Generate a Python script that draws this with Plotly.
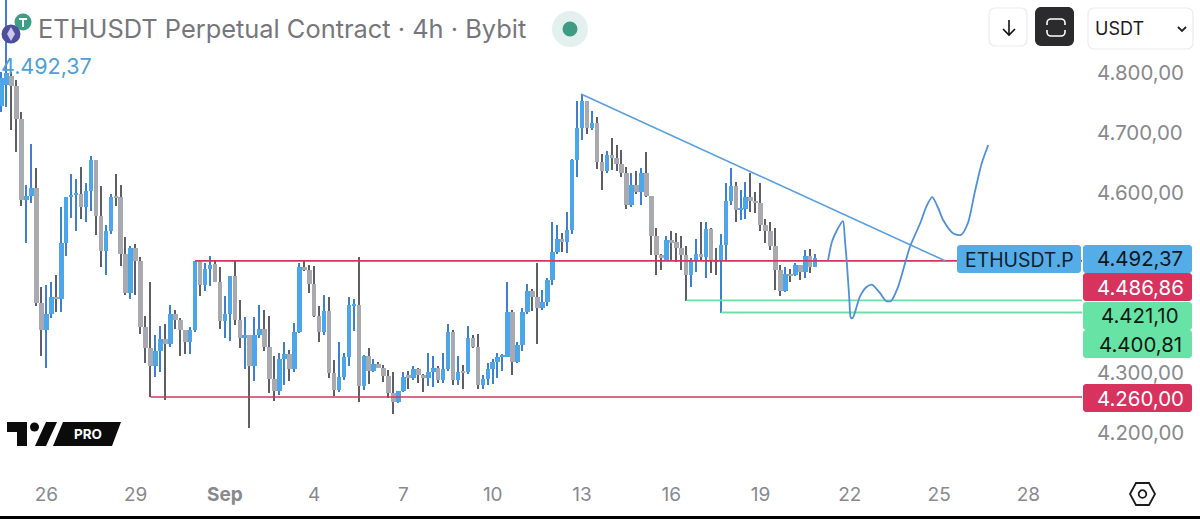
import plotly.graph_objects as go

W, H = 1200, 519
PLOT_R, PLOT_B = 1082, 470

opens = [4745,4780,4795,4778,4724,4588,4595,4609,4416,4372,
 4398,4426,4424,4516,4593,4597,4599,4576,4604,4655,
 4562,4503,4537,4594,4593,4499,4433,4508,4486,4377,
 4342,4312,4337,4357,4349,4398,4388,4372,4351,4371,
 4486,4447,4473,4482,4452,4387,4399,4461,4389,4359,
 4364,4311,4363,4373,4344,4290,4270,4323,4331,4306,
 4369,4476,4472,4448,4395,4368,4403,4300,4272,4293,
 4326,4413,4414,4279,4328,4304,4315,4309,4295,4266,
 4251,4270,4296,4291,4307,4296,4291,4302,4308,4288,
 4307,4368,4288,4302,4301,4359,4344,4280,4290,4307,
 4319,4327,4327,4401,4318,4346,4401,4437,4426,4408,
 4419,4455,4502,4523,4519,4539,4655,4709,4753,4708,
 4716,4652,4636,4663,4659,4648,4633,4580,4614,4602,
 4633,4595,4529,4497,4488,4521,4518,4509,4497,4464,
 4487,4499,4494,4540,4486,4486,4514,4587,4611,4572,
 4573,4594,4586,4584,4546,4536,4511,4471,4436,4465,
 4463,4480,4469,4495,4476]
closes = [4792,4800,4778,4724,4588,4595,4609,4416,4372,4398,
 4426,4424,4516,4593,4597,4599,4576,4604,4655,4562,
 4503,4537,4594,4593,4499,4433,4508,4486,4377,4342,
 4312,4337,4357,4349,4398,4388,4372,4351,4371,4486,
 4447,4473,4480,4452,4387,4399,4461,4389,4359,4364,
 4311,4363,4373,4344,4290,4270,4323,4331,4306,4369,
 4476,4472,4448,4395,4368,4403,4300,4272,4293,4326,
 4413,4414,4279,4328,4304,4315,4309,4295,4266,4251,
 4270,4294,4293,4307,4296,4291,4302,4308,4288,4307,
 4368,4288,4301,4301,4359,4344,4280,4290,4307,4319,
 4327,4330,4401,4318,4346,4401,4437,4426,4408,4419,
 4455,4502,4523,4519,4539,4655,4709,4753,4708,4716,
 4652,4636,4663,4659,4648,4633,4580,4614,4602,4633,
 4595,4529,4497,4491,4521,4517,4509,4497,4464,4487,
 4498,4494,4540,4486,4485,4514,4587,4611,4572,4573,
 4594,4586,4584,4546,4536,4511,4471,4436,4465,4463,
 4480,4469,4495,4476,4492.37]
highs = [4802,4925,4802,4788,4735,4613,4682,4642,4443,4447,
 4451,4463,4577,4594,4631,4623,4643,4617,4662,4655,
 4612,4547,4598,4631,4613,4526,4512,4515,4494,4395,
 4451,4363,4378,4381,4413,4405,4391,4372,4376,4487,
 4488,4483,4495,4489,4476,4429,4461,4488,4422,4393,
 4364,4393,4413,4405,4395,4328,4334,4352,4339,4383,
 4483,4487,4480,4479,4411,4430,4426,4321,4351,4333,
 4426,4423,4493,4330,4341,4324,4319,4313,4305,4302,
 4270,4301,4304,4312,4308,4298,4333,4328,4312,4334,
 4381,4371,4328,4313,4378,4363,4365,4296,4317,4323,
 4333,4332,4451,4405,4352,4408,4449,4440,4484,4438,
 4459,4552,4547,4534,4569,4657,4753,4765,4753,4736,
 4726,4665,4670,4691,4680,4672,4643,4633,4636,4641,
 4668,4595,4541,4499,4529,4536,4533,4529,4511,4491,
 4523,4551,4552,4542,4508,4531,4616,4641,4619,4605,
 4619,4634,4602,4617,4556,4552,4541,4480,4476,4473,
 4483,4480,4505,4507,4498]
lows = [4735,4743,4705,4669,4578,4517,4583,4412,4328,4308,
 4391,4402,4402,4495,4559,4537,4556,4551,4570,4530,
 4477,4463,4532,4579,4479,4430,4424,4430,4365,4316,
 4260,4293,4302,4255,4344,4374,4328,4332,4331,4369,
 4429,4436,4445,4452,4374,4359,4354,4380,4341,4306,
 4209,4287,4359,4336,4267,4253,4263,4280,4286,4302,
 4367,4470,4433,4394,4352,4363,4291,4261,4269,4288,
 4312,4370,4251,4272,4282,4302,4308,4285,4259,4232,
 4250,4269,4274,4288,4284,4268,4278,4276,4284,4284,
 4303,4280,4280,4273,4299,4341,4274,4274,4280,4281,
 4291,4303,4326,4297,4317,4336,4399,4403,4348,4405,
 4412,4447,4499,4502,4500,4532,4627,4689,4699,4705,
 4640,4605,4634,4638,4637,4626,4574,4577,4599,4580,
 4594,4497,4463,4472,4487,4487,4485,4472,4420,4444,
 4469,4487,4459,4466,4463,4400,4486,4580,4551,4555,
 4556,4569,4566,4537,4517,4505,4439,4429,4435,4451,
 4462,4455,4459,4467,4476]

x_tick_pos = [9, 27, 45, 63, 81, 99, 117, 135, 153, 171, 189, 207]
x_tick_text = ["26", "29", "<b>Sep</b>", "4", "7", "10", "13", "16", "19", "22", "25", "28"]
y_tick_vals = [4800, 4700, 4600, 4300, 4200]
y_tick_text = ["4.800,00", "4.700,00", "4.600,00", "4.300,00", "4.200,00"]

resistance, support = 4486.86, 4260.00
level_a, level_b = 4421.10, 4400.81
last_price = 4492.37
res_start, sup_start, a_start, b_start = 39, 30, 138, 145
trend_x, trend_y = [116.8, 190.2], [4765, 4487]
sketch_x = [166.6,167.4,168.4,169.6,170,170.4,170.9,171.2,171.6,173,174.3,175.5,177.1,178.3,179.3,
            180.7,183.1,185.2,186.4,187.6,188.8,189.8,191.8,193.4,194.8,196.2,197.6,198.9]
sketch_y = [4488,4519,4538,4553,4522,4483,4422,4392,4392,4427,4443,4447,4433,4420,4420,
            4443,4510,4550,4577,4593,4575,4555,4533,4530,4550,4602,4650,4680]

C_UP, C_UP_W = "#4ea6ea", "#3f7fd0"
C_DN, C_DN_W = "#a9a9b0", "#5e5e66"
C_RED, C_GRN, C_TREND = "#d8335f", "#6fdfa8", "#5a9fe0"
C_AXIS = "#88888e"
FONT = "Inter"
TAG_SIZE = 20.4

def fx(p): return p / PLOT_R
def fy(p): return 1 - p / PLOT_B

def path(pts, close=True):
    s = "M " + " L ".join(f"{fx(x):.5f},{fy(y):.5f}" for x, y in pts)
    return s + (" Z" if close else "")

def rrect(x0, y0, x1, y1, r):
    k = r * 0.45
    def P(x, y): return f"{fx(x):.5f},{fy(y):.5f}"
    return (f"M {P(x0+r,y0)} L {P(x1-r,y0)} C {P(x1-k,y0)} {P(x1,y0+k)} {P(x1,y0+r)} "
            f"L {P(x1,y1-r)} C {P(x1,y1-k)} {P(x1-k,y1)} {P(x1-r,y1)} "
            f"L {P(x0+r,y1)} C {P(x0+k,y1)} {P(x0,y1-k)} {P(x0,y1-r)} "
            f"L {P(x0,y0+r)} C {P(x0,y0+k)} {P(x0+k,y0)} {P(x0+r,y0)} Z")

shapes, annos = [], []

def sh(d, fill=None, line=None, lw=0):
    shapes.append(dict(type="path", path=d, xref="paper", yref="paper", layer="above",
                       fillcolor=fill or "rgba(0,0,0,0)",
                       line=dict(color=line or "rgba(0,0,0,0)", width=lw)))

def circ(cx, cy, r, fill=None, line=None, lw=0):
    shapes.append(dict(type="circle", xref="paper", yref="paper", layer="above",
                       x0=fx(cx-r), x1=fx(cx+r), y0=fy(cy+r), y1=fy(cy-r),
                       fillcolor=fill or "rgba(0,0,0,0)",
                       line=dict(color=line or "rgba(0,0,0,0)", width=lw)))

def txt(x, y, s, size, color, anchor="left", family=FONT):
    annos.append(dict(x=fx(x), y=fy(y), xref="paper", yref="paper", text=s, showarrow=False,
                      xanchor=anchor, yanchor="middle", align=anchor, borderpad=0, borderwidth=0,
                      font=dict(family=family, size=size, color=color)))

def fmt(v): return f"{v:,.2f}".replace(",", "X").replace(".", ",").replace("X", ".")

# price tags
sh(rrect(957, 245, 1081, 273, 3), "#55ade8")
txt(1019.5, 259.5, "ETHUSDT.P", 19.4, "#10202c", "center")
sh(rrect(1083, 245, 1192, 273, 3), "#55ade8")
txt(1140, 258.5, fmt(last_price), TAG_SIZE, "#0b1620", "center")
sh(rrect(1083, 273, 1192, 301, 3), C_RED)
txt(1140, 287.5, fmt(resistance), TAG_SIZE, "#ffffff", "center")
sh(rrect(1083, 302, 1192, 330, 3), "#67e3a6")
txt(1140, 315.5, fmt(level_a), TAG_SIZE, "#0b1a12", "center")
sh(rrect(1083, 330, 1192, 358, 3), "#67e3a6")
txt(1140, 344, fmt(level_b), TAG_SIZE, "#0b1a12", "center")
sh(rrect(1083, 384, 1192, 412, 3), C_RED)
txt(1140, 398, fmt(support), TAG_SIZE, "#ffffff", "center")

# header
circ(23, 22, 8.5, "#3f9c85")
sh(path([(19, 18), (27, 18), (27, 20), (24, 20), (24, 27), (22, 27), (22, 20), (19, 20)]), "#ffffff")
circ(11, 34, 9.5, "#4f4d9e")
sh(path([(11, 27), (15, 34), (11, 41), (7, 34)]), "#c9c9ea")
txt(38, 28.5, "ETHUSDT Perpetual Contract · 4h · Bybit", 25.4, "#76767c")
circ(570, 29, 18, "#e3f1ee")
circ(570, 29, 7.5, "#409b84")
txt(1, 66, fmt(last_price), 21.5, "#4f9fd8")

# buttons
sh(rrect(989, 8, 1027, 46, 6), "#ffffff", "#ececee", 1.2)
sh(path([(1009, 20), (1009, 35)], False), None, "#111111", 1.6)
sh(path([(1003, 29), (1009, 35), (1015, 29)], False), None, "#111111", 1.6)
sh(rrect(1035, 7, 1074, 46, 6), "#2b2b2d")
sh(rrect(1047, 19, 1065, 36, 4), None, "#ffffff", 1.6)
shapes.append(dict(type="rect", xref="paper", yref="paper", layer="above",
                   x0=fx(1045), x1=fx(1067), y0=fy(30), y1=fy(25), fillcolor="#2b2b2d", line=dict(width=0)))
sh(rrect(1088, 8, 1193, 49, 6), "#ffffff", "#ececee", 1.2)
txt(1095, 28.5, "USDT", 18, "#1c1c1e")
sh(path([(1178, 27), (1182, 31), (1186, 27)], False), None, "#222222", 1.8)

# TradingView mark
sh(path([(7,422),(27,422),(27,446),(17,446),(17,432),(7,432)]), "#0b0b0b")
circ(34.5, 427, 4.5, "#0b0b0b")
sh(path([(46,422),(57,422),(46,446),(35,446)]), "#0b0b0b")
sh(path([(63,422),(121,422),(112,446),(53,446)]), "#0b0b0b")
txt(88, 434, "<b>PRO</b>", 13.5, "#ffffff", "center")

# settings hexagon
sh(path([(1130,494),(1136,483),(1149,483),(1155,494),(1149,505),(1136,505)]), None, "#1c1c1e", 1.8)
circ(1142.5, 494, 3.8, None, "#1c1c1e", 1.8)

# bottom edge
shapes.append(dict(type="rect", xref="paper", yref="paper", layer="above",
                   x0=0, x1=fx(W), y0=fy(519), y1=fy(516), fillcolor="#000000", line=dict(width=0)))

xs = list(range(len(opens)))
up = [c >= o for o, c in zip(opens, closes)]
fig = go.Figure()
fig.add_trace(go.Bar(x=xs, y=[h - l for h, l in zip(highs, lows)], base=lows, width=0.3,
                     marker=dict(color=[C_UP_W if u else C_DN_W for u in up], line=dict(width=0)),
                     hoverinfo="skip", showlegend=False))
fig.add_trace(go.Bar(x=xs, y=[max(abs(c - o), 1.5) for o, c in zip(opens, closes)],
                     base=[min(o, c) for o, c in zip(opens, closes)], width=0.92,
                     marker=dict(color=[C_UP if u else C_DN for u in up], line=dict(width=0)),
                     hoverinfo="skip", showlegend=False))

AX_END = 217.8
for start, lvl, col, lw in [(res_start, resistance, C_RED, 1.6), (sup_start, support, C_RED, 1.6),
                            (a_start, level_a, C_GRN, 1.8), (b_start, level_b, C_GRN, 1.8)]:
    fig.add_trace(go.Scatter(x=[start, AX_END], y=[lvl, lvl], mode="lines",
                             line=dict(color=col, width=lw), hoverinfo="skip", showlegend=False))
fig.add_trace(go.Scatter(x=trend_x, y=trend_y, mode="lines", line=dict(color=C_TREND, width=1.6),
                         hoverinfo="skip", showlegend=False))
fig.add_trace(go.Scatter(x=sketch_x, y=sketch_y, mode="lines",
                         line=dict(color="#4f8fdc", width=1.8, shape="spline", smoothing=0.7),
                         hoverinfo="skip", showlegend=False))

fig.update_layout(
    width=W, height=H, autosize=False, barmode="overlay", bargap=0,
    paper_bgcolor="#ffffff", plot_bgcolor="#ffffff",
    margin=dict(l=0, r=W - PLOT_R, t=0, b=H - PLOT_B, pad=0),
    font=dict(family=FONT, color=C_AXIS),
    shapes=shapes, annotations=annos, showlegend=False,
    xaxis=dict(range=[-0.343, AX_END], tickmode="array", tickvals=x_tick_pos, ticktext=x_tick_text,
               showgrid=False, zeroline=False, showline=False, ticks="outside", ticklen=7,
               tickcolor="#ffffff", tickfont=dict(size=19, color=C_AXIS, family=FONT)),
    yaxis=dict(range=[4138.33, 4921.67], side="right", tickmode="array", tickvals=y_tick_vals,
               ticktext=y_tick_text, showgrid=False, zeroline=False, showline=False, ticks="outside",
               ticklen=10, tickcolor="#ffffff", tickfont=dict(size=20.4, color=C_AXIS, family=FONT)),
)
fig.write_html("out.html", config=dict(displayModeBar=False),
               post_script="document.body.style.margin='0';document.body.style.overflow='hidden';")
